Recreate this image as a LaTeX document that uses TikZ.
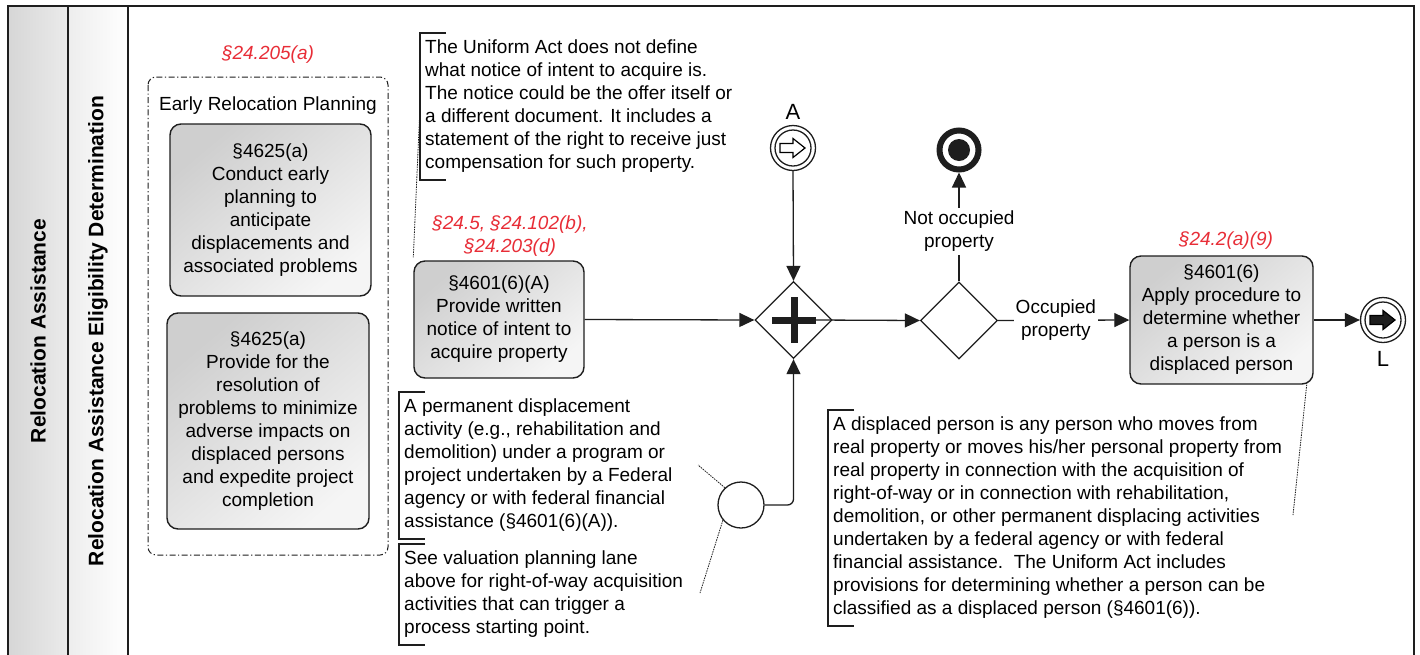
\documentclass[tikz,border=0pt]{standalone}
\usepackage{fontspec}
\setmainfont{Liberation Sans}
\usetikzlibrary{arrows.meta,shapes.geometric,calc}
\definecolor{refred}{RGB}{232,45,55}
\definecolor{inkgray}{RGB}{30,30,30}

\newcommand\bpmnlink[2]{% hollow or filled block arrow inside a link event
  \draw[line width=1.2pt,#2] ($(#1)+(-13,-4.5)$) -- ($(#1)+(0,-4.5)$) -- ($(#1)+(0,-9.5)$)
    -- ($(#1)+(12,0)$) -- ($(#1)+(0,9.5)$) -- ($(#1)+(0,4.5)$) -- ($(#1)+(-13,4.5)$) -- cycle;}

\begin{document}
\begin{tikzpicture}[x=1pt,y=-1pt,
  txt/.style={font=\fontsize{19}{23}\selectfont},
  task/.style={txt, draw=inkgray, line width=1.4pt, rounded corners=11pt,
    top color=black!19, bottom color=black!4, shading angle=40,
    align=center, inner sep=2pt},
  reflabel/.style={txt, text=refred, font=\fontsize{19}{23}\selectfont\itshape, align=center},
  annot/.style={txt, anchor=north west, align=left, inner xsep=5pt, inner ysep=7pt},
  bracket/.style={draw=inkgray, line width=1.3pt},
  assoc/.style={draw=inkgray, line width=0.8pt, dash pattern=on 1.5pt off 1pt},
  flow/.style={draw=inkgray, line width=1.3pt, -{Triangle[length=15pt,width=14pt]}},
  gate/.style={diamond, draw=inkgray, line width=1.3pt, fill=white, minimum width=77pt, minimum height=77pt, inner sep=0pt},
  event/.style={circle, draw=inkgray, line width=1.3pt, fill=white, minimum size=45pt, inner sep=0pt},
  evlabel/.style={font=\fontsize{22}{26}\selectfont},
  lbl/.style={txt, fill=white, align=center, inner xsep=2pt, inner ysep=3pt},
  lanehead/.style={font=\fontsize{21}{25}\selectfont\bfseries, rotate=90}
]
\clip (0,0) rectangle (1420,654);
\fill[white] (0,0) rectangle (1420,654);

% pool and lane headers
\shade[left color=black!16, right color=black!8] (8,6) rectangle (68,670);
\shade[left color=black!7, right color=white] (68,6) rectangle (128,670);
\draw[inkgray, line width=2.2pt] (8,670) -- (8,6) -- (1414,6) -- (1414,670);
\draw[inkgray, line width=2pt] (68,6) -- (68,670) (128,6) -- (128,670);
\node[lanehead] (pool) at (38,331) {Relocation Assistance};
\node[lanehead] (lane) at (98,331) {Relocation Assistance Eligibility Determination};

% early relocation planning group
\node[reflabel] (r1) at (268,55) {§24.205(a)};
\draw[inkgray, line width=1pt, dash pattern=on 6pt off 2.5pt on 1.2pt off 2.5pt, rounded corners=8pt]
  (148,77) rectangle (388,555);
\node[txt] (grp) at (268,106) {Early Relocation Planning};
\node[task, minimum width=201pt, minimum height=172pt] (t1) at (270.5,210)
  {§4625(a)\\Conduct early\\planning to\\anticipate\\displacements and\\associated problems};
\node[task, minimum width=202pt, minimum height=216pt] (t2) at (268,421)
  {§4625(a)\\Provide for the\\resolution of\\problems to minimize\\adverse impacts on\\displaced persons\\and expedite project\\completion};

% notice of intent
\node[annot] (a1) at (420,33) {The Uniform Act does not define\\what notice of intent to acquire is.\\The notice could be the offer itself or\\a different document. It includes a\\statement of the right to receive just\\compensation for such property.};
\node[reflabel] (r2) at (510,236) {§24.5, §24.102(b),\\§24.203(d)};
\node[task, minimum width=170pt, minimum height=117pt] (t3) at (499,319.5)
  {§4601(6)(A)\\Provide written\\notice of intent to\\acquire property};

% start events and parallel gateway
\node[event] (sa) at (793,148) {};
\draw[inkgray, line width=1.3pt] (sa.center) circle (18pt);
\bpmnlink{sa.center}{fill=white}
\node[evlabel] (la) at (793,112) {A};

\node[event, minimum size=46pt] (s0) at (741,505) {};
\node[gate] (pg) at (793.5,320) {};
\draw[inkgray, line width=7pt] (772,320) -- (816,320) (794,297) -- (794,343);

\node[annot] (a2) at (399,392) {A permanent displacement\\activity (e.g., rehabilitation and\\demolition) under a program or\\project undertaken by a Federal\\agency or with federal financial\\assistance (§4601(6)(A)).};
\node[annot] (a3) at (399,544) {See valuation planning lane\\above for right-of-way acquisition\\activities that can trigger a\\process starting point.};

% exclusive gateway, end event, determination task
\node[gate] (xg) at (959,320.5) {};
\node[circle, draw=inkgray, line width=6pt, minimum size=39pt, inner sep=0pt] (te) at (959,150) {};
\fill[inkgray] (te.center) circle (11pt);

\node[reflabel] (r3) at (1226,241) {§24.2(a)(9)};
\node[task, minimum width=183pt, minimum height=128pt] (t4) at (1221.5,320)
  {§4601(6)\\Apply procedure to\\determine whether\\a person is a\\displaced person};

\node[event] (le) at (1383,320) {};
\draw[inkgray, line width=1.3pt] (le.center) circle (18pt);
\bpmnlink{le.center}{fill=inkgray}
\node[evlabel] (ll) at (1383,359) {L};

\node[annot] (a4) at (828,410) {A displaced person is any person who moves from\\real property or moves his/her personal property from\\real property in connection with the acquisition of\\right-of-way or in connection with rehabilitation,\\demolition, or other permanent displacing activities\\undertaken by a federal agency or with federal\\financial assistance.\ \ The Uniform Act includes\\provisions for determining whether a person can be\\classified as a displaced person (§4601(6)).};

% annotation brackets
\foreach \a in {a1,a2,a3,a4}
  \draw[bracket] ([xshift=26pt]\a.north west) -- (\a.north west) -- (\a.south west) -- ([xshift=26pt]\a.south west);

% sequence flows
\draw[flow] (t3.east) -- (pg.west);
\draw[flow] (sa.south) -- (pg.north);
\draw[flow, rounded corners=6pt] (s0.east) -| (pg.south);
\draw[flow] ([xshift=22pt]pg.center) -- (xg.west);
\draw[flow] (xg.north) -- node[lbl, pos=0.46] (lno) {Not occupied\\property} (te.south);
\draw[flow] (xg.east) -- node[lbl, pos=0.44] (lyes) {Occupied\\property} (t4.west);
\draw[flow] (t4.east) -- (le.west);

% associations
\coordinate (c2) at (698,465);
\coordinate (c3) at (700,593);
\coordinate (c4) at (1293,515);
\draw[assoc] (a1.west) -- ([yshift=3pt]t3.north west);
\draw[assoc] (s0.133) -- (c2);
\draw[assoc] (s0.220) -- (c3);
\draw[assoc] ([xshift=-7pt]t4.south east) -- (c4);
\end{tikzpicture}
\end{document}
